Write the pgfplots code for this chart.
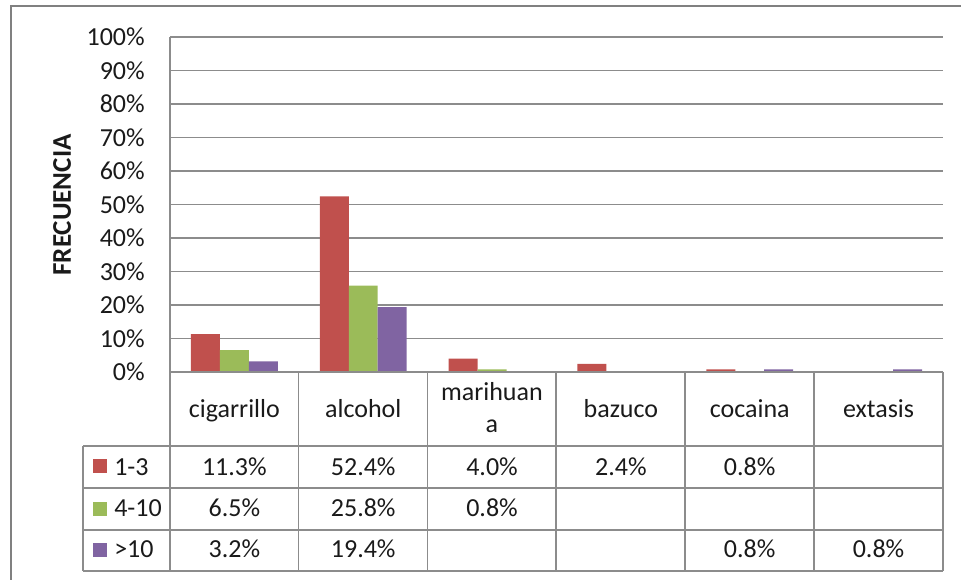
\documentclass[border=0pt]{standalone}
\usepackage{fontspec}
\setmainfont{Carlito}
\usepackage{pgfplots}
\usepackage{pgfplotstable}
\pgfplotsset{compat=1.18}

\definecolor{serA}{HTML}{C0504D}
\definecolor{serB}{HTML}{9BBB59}
\definecolor{serC}{HTML}{8064A2}
\definecolor{gridgray}{HTML}{8C8C8C}
\definecolor{framegray}{HTML}{808080}
\definecolor{txt}{HTML}{1A1A1A}

% frequency of use (percent) per substance; nan = no value
\pgfplotstableread{
cat a b c
0 11.3 6.5 3.2
1 52.4 25.8 19.4
2 4.0 0.8 nan
3 2.4 nan nan
4 0.8 nan 0.8
5 nan nan 0.8
}\datatbl

\newcommand\chartfont{\fontsize{19.5}{24}\selectfont}
\def\nanstr{nan}

\begin{document}
\begin{tikzpicture}[every node/.style={text=txt}]
% page frame (units: 1 = 0.75pt, y downwards)
\begin{scope}[x=0.75pt,y=-0.75pt]
  \useasboundingbox (0,0) rectangle (961,579);
  \draw[framegray, line width=1.5pt] (11,585) -- (11,6) -- (966,6);
\end{scope}

\begin{axis}[
  at={(127.5pt,-279pt)}, anchor=south west,
  scale only axis, width=579.75pt, height=251.25pt,
  xmin=-0.5, xmax=5.5, ymin=0, ymax=100,
  xtick=\empty,
  ytick={0,10,...,100},
  yticklabels={0\%,10\%,20\%,30\%,40\%,50\%,60\%,70\%,80\%,90\%,100\%},
  yticklabel style={font=\chartfont, anchor=east, inner sep=0pt, xshift=-18.75pt, text=txt},
  major tick length=0pt,
  ymajorgrids, grid style={gridgray, line width=1pt},
  axis line style={draw=none},
  ybar, bar width=0.225,
  clip=false,
]
\addplot[fill=serA, draw=none, bar shift=-0.225] table[x=cat,y=a]{\datatbl};
\addplot[fill=serB, draw=none, bar shift=0]      table[x=cat,y=b]{\datatbl};
\addplot[fill=serC, draw=none, bar shift=0.225]  table[x=cat,y=c]{\datatbl};
\end{axis}

% data table under the plot
\begin{scope}[x=0.75pt,y=-0.75pt, tbl/.style={gridgray, line width=1pt}]
  \draw[tbl] (170,37) -- (170,571);
  \draw[tbl] (170,372) -- (943,372);
  \foreach \yy in {446,488,530,571} \draw[tbl] (83,\yy) -- (943,\yy);
  \draw[tbl] (83,446) -- (83,571);
  \foreach \xx in {298.5,427.5,556,685,814,943} \draw[tbl] (\xx,372) -- (\xx,571);

  \node[rotate=90, font=\fontsize{20.25}{24}\selectfont\bfseries] at (62,205) {FRECUENCIA};

  % category names
  \foreach \nm [count=\k from 0] in {cigarrillo,alcohol,,bazuco,cocaina,extasis}
    \node[font=\chartfont, anchor=base] at ({234.4+128.83*\k},417) {\nm};
  \node[font=\chartfont, anchor=base] at (491.9,400) {marihuan};
  \node[font=\chartfont, anchor=base] at (491.9,432) {a};

  % series keys
  \fill[serA] (93,459) rectangle (107,473);
  \fill[serB] (93,502) rectangle (107,516);
  \fill[serC] (93,543) rectangle (107,557);
  \node[font=\chartfont, anchor=base west, inner sep=0pt] at (114,475) {1-3};
  \node[font=\chartfont, anchor=base west, inner sep=0pt] at (114,516.5) {4-10};
  \node[font=\chartfont, anchor=base west, inner sep=0pt] at (114,557.5) {>10};

  % values
  \foreach \i in {0,...,5} {
    \foreach \col/\yy in {a/475,b/516.5,c/557.5} {
      \pgfplotstablegetelem{\i}{\col}\of\datatbl
      \edef\val{\pgfplotsretval}
      \ifx\val\nanstr\else
        \node[font=\chartfont, anchor=base] at ({234.4+128.83*\i},\yy)
          {\pgfmathprintnumber[fixed,fixed zerofill,precision=1,assume math mode=true]{\val}\%};
      \fi
    }
  }
\end{scope}
\end{tikzpicture}
\end{document}
